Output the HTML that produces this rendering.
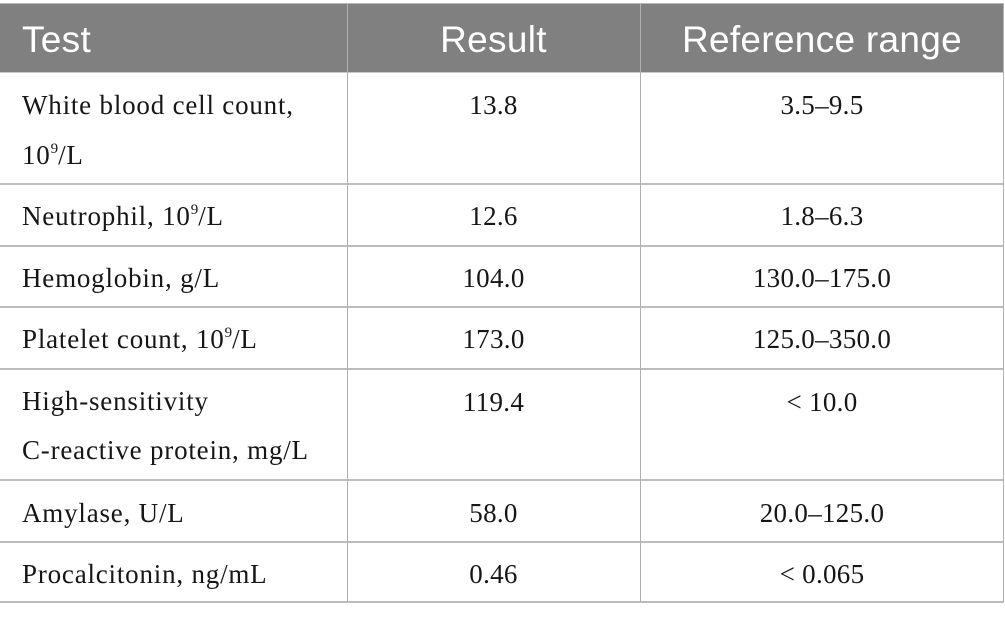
<!DOCTYPE html>
<html>
<head>
<meta charset="utf-8">
<style>
  html, body { margin:0; padding:0; background:#ffffff; }
  body { width:1005px; height:621px; position:relative; overflow:hidden; }
  .hdr { position:absolute; left:0; top:4px; width:1004px; height:68px; background:#7f807f; }
  .topline { position:absolute; left:0; top:3px; width:1004px; height:1px; background:#b8b8b8; }
  .h { position:absolute; top:6px; height:68px; line-height:68px; color:#ffffff;
       font-family:"Liberation Sans", sans-serif; font-size:37px; letter-spacing:0.3px; white-space:nowrap; }
  .hl { position:absolute; left:0; width:1004px; height:2px; background:#bdbdbd; }
  .vl { position:absolute; top:4px; width:1px; height:598px; background:#b0b0b0; }
  .t { position:absolute; left:22px; line-height:50px; font-family:"Liberation Serif", serif;
       font-size:27px; letter-spacing:0.8px; color:#161616; white-space:nowrap; }
  .c2, .c3 { position:absolute; line-height:50px; font-family:"Liberation Serif", serif;
       font-size:27px; letter-spacing:0.3px; color:#161616; white-space:nowrap; text-align:center; }
  .c2 { left:347px; width:293px; }
  .c3 { left:640px; width:364px; }
  sup { font-size:15px; vertical-align:0; position:relative; top:-11px; letter-spacing:0; }
</style>
</head>
<body>
  <div class="topline"></div>
  <div class="hdr"></div>

  <div class="h" style="left:22px;">Test</div>
  <div class="h" style="left:347px;width:293px;text-align:center;">Result</div>
  <div class="h" style="left:640px;width:364px;text-align:center;">Reference range</div>

  <!-- horizontal lines -->
  <div class="hl" style="top:72px;height:1px;background:#c8c8c8;"></div>
  <div class="hl" style="top:183px;"></div>
  <div class="hl" style="top:245px;"></div>
  <div class="hl" style="top:306px;"></div>
  <div class="hl" style="top:368px;"></div>
  <div class="hl" style="top:479px;"></div>
  <div class="hl" style="top:541px;"></div>
  <div class="hl" style="top:601px;"></div>

  <!-- vertical lines -->
  <div class="vl" style="left:347px;"></div>
  <div class="vl" style="left:640px;"></div>
  <div class="vl" style="left:1003px;"></div>

  <!-- Row 1 -->
  <div class="t" style="top:80px;">White blood cell count,<br>10<sup>9</sup>/L</div>
  <div class="c2" style="top:80px;">13.8</div>
  <div class="c3" style="top:80px;">3.5–9.5</div>

  <!-- Row 2 -->
  <div class="t" style="top:191px;">Neutrophil, 10<sup>9</sup>/L</div>
  <div class="c2" style="top:191px;">12.6</div>
  <div class="c3" style="top:191px;">1.8–6.3</div>

  <!-- Row 3 -->
  <div class="t" style="top:253px;">Hemoglobin, g/L</div>
  <div class="c2" style="top:253px;">104.0</div>
  <div class="c3" style="top:253px;">130.0–175.0</div>

  <!-- Row 4 -->
  <div class="t" style="top:314px;">Platelet count, 10<sup>9</sup>/L</div>
  <div class="c2" style="top:314px;">173.0</div>
  <div class="c3" style="top:314px;">125.0–350.0</div>

  <!-- Row 5 -->
  <div class="t" style="top:377px;line-height:49px;">High-sensitivity<br>C-reactive protein, mg/L</div>
  <div class="c2" style="top:377px;">119.4</div>
  <div class="c3" style="top:377px;">&lt; 10.0</div>

  <!-- Row 6 -->
  <div class="t" style="top:488px;">Amylase, U/L</div>
  <div class="c2" style="top:488px;">58.0</div>
  <div class="c3" style="top:488px;">20.0–125.0</div>

  <!-- Row 7 -->
  <div class="t" style="top:549px;">Procalcitonin, ng/mL</div>
  <div class="c2" style="top:549px;">0.46</div>
  <div class="c3" style="top:549px;">&lt; 0.065</div>
</body>
</html>
